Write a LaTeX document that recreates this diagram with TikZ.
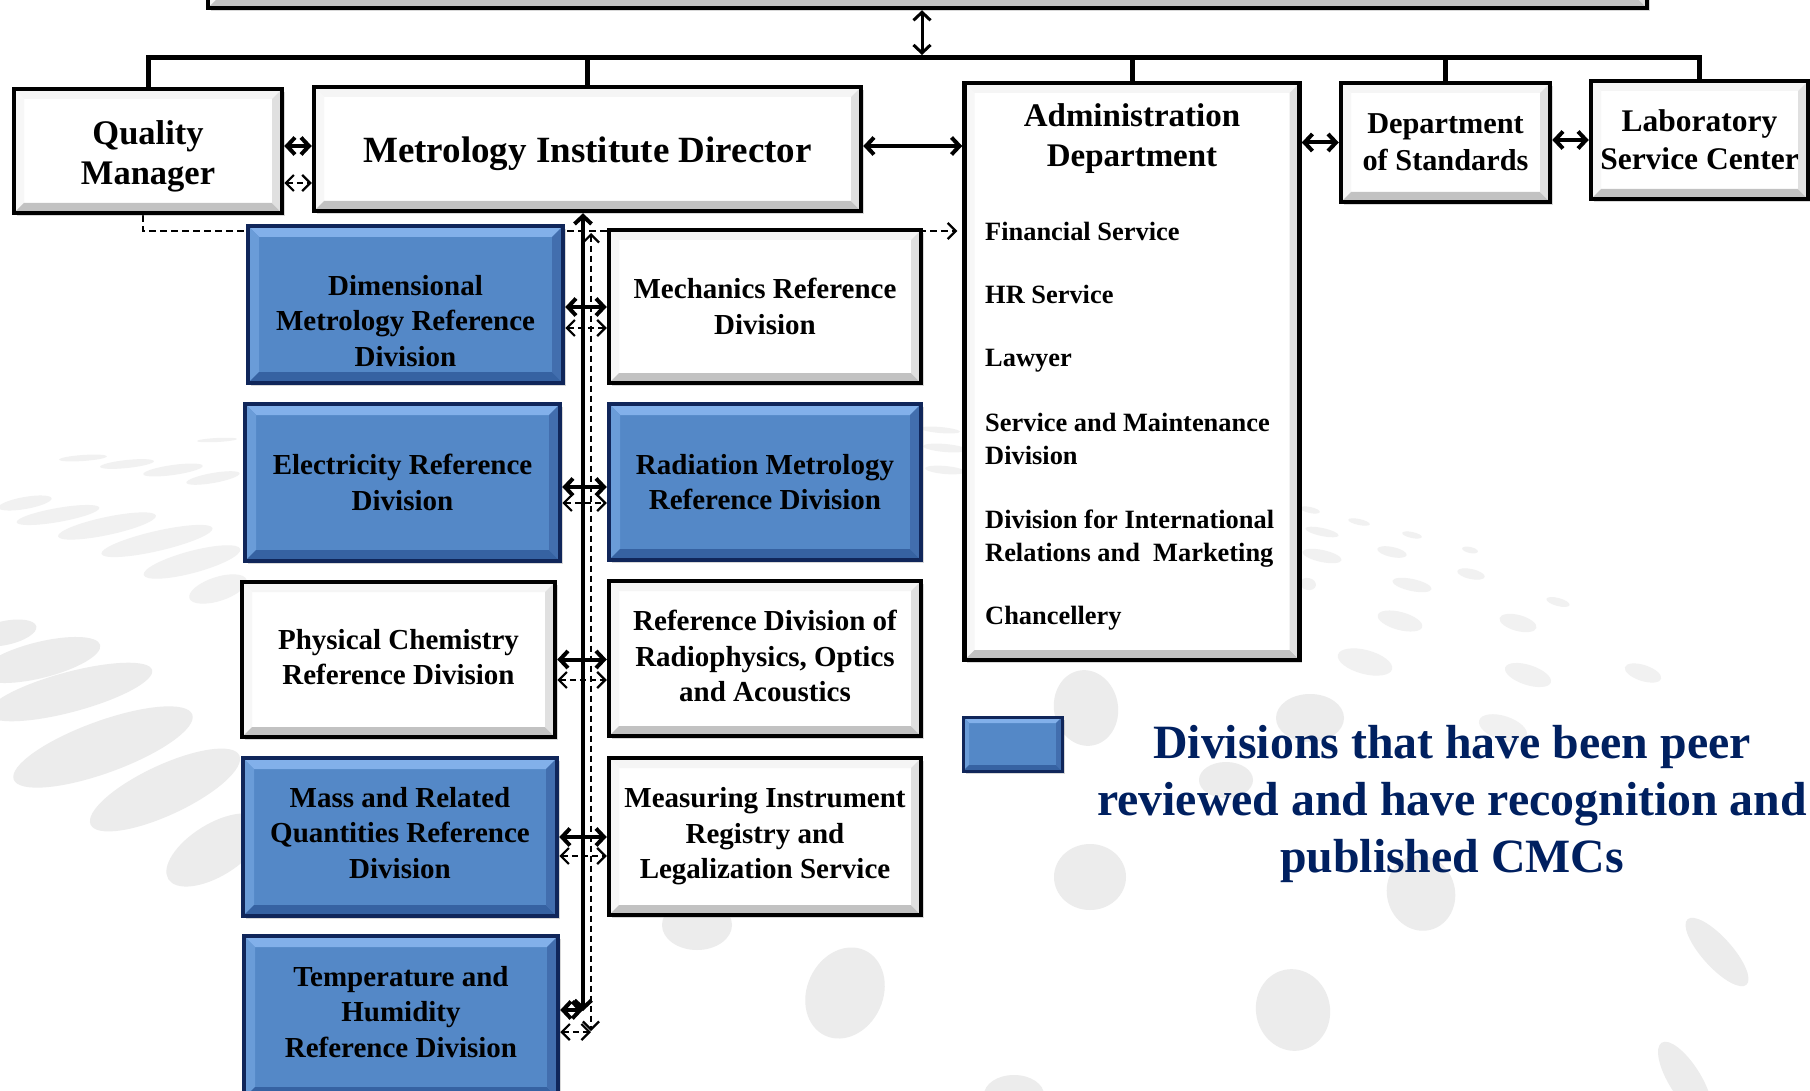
\documentclass[tikz,border=0pt]{standalone}
\usepackage{fontspec}
\setmainfont{Liberation Serif}
\usetikzlibrary{arrows.meta,shadows}
\pgfdeclarelayer{wm}
\pgfdeclarelayer{bg}
\pgfsetlayers{wm,bg,main}
\definecolor{navy}{RGB}{0,32,96}
\definecolor{bfill}{RGB}{84,136,199}
\definecolor{bborder}{RGB}{16,38,90}
\definecolor{btop}{RGB}{130,176,234}
\definecolor{bleft}{RGB}{106,156,216}
\definecolor{bbot}{RGB}{54,98,162}
\definecolor{bright}{RGB}{66,110,174}
\definecolor{blobA}{RGB}{236,236,236}
\definecolor{blobB}{RGB}{241,241,241}
\newcommand\myfs[2]{\fontsize{#1}{#2}\selectfont}
\tikzset{
  bev/.style n args={5}{path picture={
    \path (path picture bounding box.north west) coordinate (pnw)
          (path picture bounding box.north east) coordinate (pne)
          (path picture bounding box.south west) coordinate (psw)
          (path picture bounding box.south east) coordinate (pse);
    \fill[#1] (pnw) -- (pne) -- ([shift={(-#5,-#5)}]pne) -- ([shift={(#5,-#5)}]pnw) -- cycle;
    \fill[#2] (pnw) -- (psw) -- ([shift={(#5,#5)}]psw) -- ([shift={(#5,-#5)}]pnw) -- cycle;
    \fill[#3] (psw) -- (pse) -- ([shift={(-#5,#5)}]pse) -- ([shift={(#5,#5)}]psw) -- cycle;
    \fill[#4] (pne) -- (pse) -- ([shift={(-#5,#5)}]pse) -- ([shift={(-#5,-#5)}]pne) -- cycle;
  }},
  sz/.style 2 args={minimum width=#1pt, minimum height=#2pt},
  box/.style={line width=4.5pt, inner sep=0pt, align=center, font=\bfseries\myfs{29}{35.5},
    drop shadow={shadow xshift=2.5pt,shadow yshift=-3pt,opacity=0.3}},
  wbox/.style={box, draw=black, fill=white, bev={black!4}{black!3}{black!24}{black!12}{10pt}},
  bbox/.style={box, draw=bborder, fill=bfill, bev={btop}{bleft}{bbot}{bright}{11pt}},
  txt/.style={inner sep=0pt, align=center, font=\bfseries\myfs{29}{35.5}},
  item/.style={anchor=west, inner sep=0pt, align=left, font=\bfseries\myfs{26.4}{33}},
  stip/.tip={Straight Barb[length=8pt,width=17pt]},
  dtip/.tip={Straight Barb[length=8pt,width=16pt]},
  sarr/.style={line width=4pt, arrows={stip-stip}},
  tarr/.style={line width=3pt, arrows={stip-stip}},
  darr/.style={line width=2.2pt, dash pattern=on 6pt off 4pt, arrows={dtip-dtip}},
  dline/.style={line width=2.2pt, dash pattern=on 7pt off 4pt},
  bus/.style={line width=5pt},
}
\begin{document}
\begin{tikzpicture}[x=1pt,y=-1pt]
\useasboundingbox (0,0) rectangle (1810,1091);
\begin{pgfonlayer}{wm}
\fill[white] (0,0) rectangle (1810,1091);
\foreach \x/\y/\a/\b/\r in {5/633/32/12/12, 40/660/62/18/14, 70/692/85/20/15, 103/747/95/26/20, 165/790/82/25/25, 215/850/55/26/32,
  697/925/35/25/0, 845/993/38/47/-25, 1090/877/36/33/0, 1421/893/34/38/15, 1086/708/32/38/10, 1226/780/27/18/0, 1293/1010/37/41/12, 1717/952/44/15/-48, 1685/1080/44/16/-58, 1014/1095/30/20/0, 1310/718/34/24/0}
  {\fill[blobA, rotate around={\r:(\x,\y)}] (\x,\y) ellipse [x radius=\a, y radius=\b];}
\foreach \x/\y/\a/\b/\r in {83/458/24/3/4, 127/464/27/4/6, 173/470/30/5/8, 213/478/27/5/10, 217/440/20/2/3, 25/503/27/6/10, 58/515/42/7/10, 107/526/50/9/12, 157/541/57/10/13, 192/562/50/11/15, 218/589/30/12/18,
  1310/510/10/3/-12, 1322/532/17/4/-12, 1359/522/11/3/-12, 1412/535/10/3/-12, 1322/556/20/6/-12, 1392/552/15/5/-12, 1470/550/8/3/-12, 1308/584/8/6/-12, 1412/585/20/6/-12, 1471/574/14/5/-12, 1558/602/12/4/-15, 1400/621/23/9/-15, 1518/623/19/8/-15, 1365/662/28/12/-15, 1528/675/24/10/-18, 1643/673/19/8/-18, 1503/728/25/12/-18,
  940/430/20/3/-5, 945/448/22/4/-5, 945/470/20/4/-5}
  {\fill[blobB, rotate around={\r:(\x,\y)}] (\x,\y) ellipse [x radius=\a, y radius=\b];}
\end{pgfonlayer}

% top level
\node[wbox, sz={1439}{44}] (top) at (927.5,-14) {};
\node[wbox, sz={268}{124}] (qm) at (148,151) {};
\node[txt, font=\bfseries\myfs{34.5}{40}] (qmt) at (148,156) {Quality\\Manager};
\node[wbox, sz={547}{124}] (dir) at (587.5,149) {};
\node[txt, font=\bfseries\myfs{37}{42}] (dirt) at (587.5,154) {Metrology Institute Director};
\node[wbox, sz={335}{577}] (adm) at (1132,371.5) {};
\node[txt, font=\bfseries\myfs{33}{40}] (admh) at (1132,139) {Administration\\Department};
\node[wbox, sz={209}{119}, font=\bfseries\myfs{30.3}{37}] (std) at (1445.5,142.5) {Department\\of Standards};
\node[wbox, sz={217}{118}, font=\bfseries\myfs{31.5}{38}] (lab) at (1699.5,140) {Laboratory\\Service Center};

% admin items
\node[item] (a1) at (985,231) {Financial Service};
\node[item] (a2) at (985,294.5) {HR Service};
\node[item] (a3) at (985,361) {Lawyer};
\node[item] (a4) at (985,438.5) {Service and Maintenance\\Division};
\node[item] (a5) at (985,539) {Division for International\\Relations and\ \ Marketing};
\node[item] (a6) at (985,618) {Chancellery};

% divisions
\node[bbox, sz={315}{157}] (dim) at (405.5,304.5) {};
\node[txt] (dimt) at (405.5,321) {Dimensional\\Metrology Reference\\Division};
\node[bbox, sz={315}{157}] (ele) at (402.5,482.5) {Electricity Reference\\Division};
\node[wbox, sz={313}{155}] (phy) at (398.5,659.5) {};
\node[txt] (phyt) at (398.5,657) {Physical Chemistry\\Reference Division};
\node[bbox, sz={314}{158}] (mas) at (400,837) {};
\node[txt] (mast) at (400,833) {Mass and Related\\Quantities Reference\\Division};
\node[bbox, sz={314}{162}] (tmp) at (401,1017) {};
\node[txt] (tmpt) at (401,1012) {Temperature and\\Humidity\\Reference Division};
\node[wbox, sz={312}{153}] (mec) at (765,306.5) {Mechanics Reference\\Division};
\node[bbox, sz={312}{156}] (rad) at (765,482) {Radiation Metrology\\Reference Division};
\node[wbox, sz={312}{155}] (rph) at (765,658.5) {};
\node[txt] (rpht) at (765,656) {Reference Division of\\Radiophysics, Optics\\and Acoustics};
\node[wbox, sz={312}{157}] (mea) at (765,836.5) {Measuring Instrument\\Registry and\\Legalization Service};

% legend
\node[bbox, sz={99}{54}, line width=3pt, bev={btop}{bleft}{bbot}{bright}{6pt}] (leg) at (1012.5,744) {};
\node[txt, text=navy, font=\bfseries\myfs{47.8}{57}] (legt) at (1452,804) {Divisions that have been peer\\reviewed and have recognition and\\published CMCs};

% dashed line from quality manager (behind the boxes)
\begin{pgfonlayer}{bg}
\draw[dline, arrows={-dtip}] ([xshift=-5pt]qm.south) |- ([xshift=-5pt]adm.west |- a1.west);
\end{pgfonlayer}

% bus
\coordinate (busy) at (0,58);
\draw[bus] (qm.north) |- (busy -| lab.north) -- (lab.north);
\foreach \n in {dir,adm,std} \draw[bus] (\n.north) -- (\n.north |- busy);
\coordinate (tv) at (922,55);
\draw[tarr] (tv |- top.south) -- (tv);

% top row arrows
\draw[sarr] ([yshift=5pt]qm.east) -- ([yshift=5pt]qm.east -| dir.west);
\draw[darr] ([yshift=-32pt]qm.east) -- ([yshift=-32pt]qm.east -| dir.west);
\draw[sarr] ([yshift=3pt]dir.east) -- ([yshift=3pt]dir.east -| adm.west);
\draw[sarr] (std.west -| adm.east) -- (std.west);
\draw[sarr] (lab.west -| std.east) -- (lab.west);

% vertical lines
\coordinate (vs) at (583,1011);
\coordinate (vd) at (591,1031);
\coordinate (vdt) at (591,233);
\draw[sarr] (vs |- dir.south) -- (vs);
\draw[darr] (vdt) -- (vd);

% row arrows
\draw[sarr] ([yshift=-2.5pt]dim.east) -- ([yshift=-2.5pt]dim.east -| mec.west);
\draw[darr] ([yshift=-23.5pt]dim.east) -- ([yshift=-23.5pt]dim.east -| mec.west);
\draw[sarr] ([yshift=-4.5pt]ele.east) -- ([yshift=-4.5pt]ele.east -| rad.west);
\draw[darr] ([yshift=-20.5pt]ele.east) -- ([yshift=-20.5pt]ele.east -| rad.west);
\draw[sarr] (phy.east) -- (phy.east -| rph.west);
\draw[darr] ([yshift=-20.5pt]phy.east) -- ([yshift=-20.5pt]phy.east -| rph.west);
\draw[sarr] (mas.east) -- (mas.east -| mea.west);
\draw[darr] ([yshift=-19pt]mas.east) -- ([yshift=-19pt]mas.east -| mea.west);
\draw[sarr] ([yshift=7pt]tmp.east) -- ([yshift=7pt]tmp.east -| vs);
\draw[darr] ([yshift=-15pt]tmp.east) -- ([yshift=-15pt]tmp.east -| vd);
\end{tikzpicture}
\end{document}
